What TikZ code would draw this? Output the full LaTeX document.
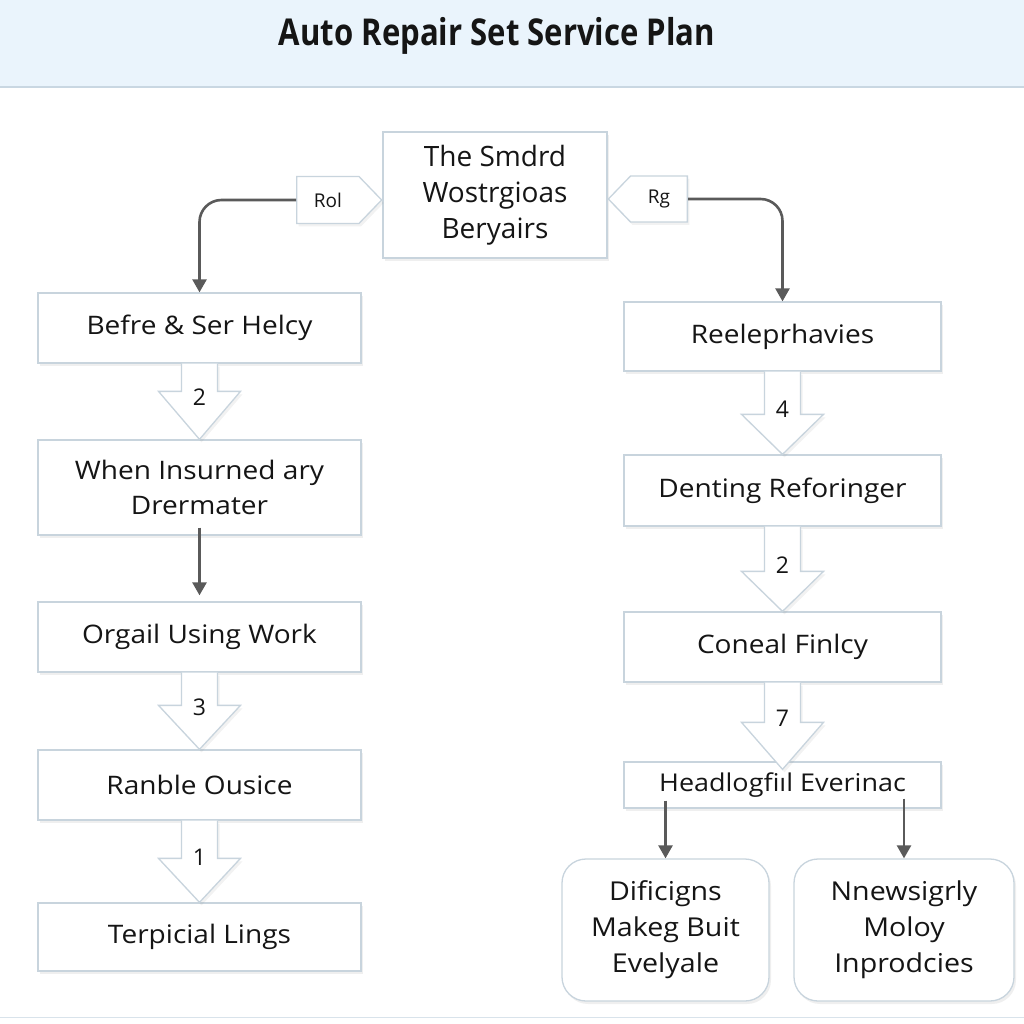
\documentclass[tikz,border=0pt]{standalone}
\usepackage{fontspec}
\setmainfont{Open Sans}
\newfontfamily\titlefont[FakeStretch=0.84]{Open Sans}
\newfontfamily\bodyfont[FakeStretch=1.1]{Open Sans}
\usetikzlibrary{shapes.symbols,arrows.meta,calc,shadows}
\definecolor{boxline}{HTML}{C8D4DD}
\definecolor{txt}{HTML}{151515}
\definecolor{connc}{HTML}{5A5A5A}
\definecolor{headbg}{HTML}{EAF4FC}
\definecolor{headline}{HTML}{C9D7E2}
\newcommand\blkarrow[5]{%
  \fill[white,drop shadow={shadow xshift=2pt,shadow yshift=-3pt,opacity=0.10}] let \p1=(#1.south), \p2=(#2.north) in
    (\x1-18pt,\y1) -- (\x1-18pt,\y2+#4-#5) -- (\x1-41pt,\y2+#4-#5) -- (\x1,\y2-#5)
    -- (\x1+41pt,\y2+#4-#5) -- (\x1+18pt,\y2+#4-#5) -- (\x1+18pt,\y1) -- cycle;
  \draw[blkline] let \p1=(#1.south), \p2=(#2.north) in
    (\x1-18pt,\y1) -- (\x1-18pt,\y2+#4-#5) -- (\x1-41pt,\y2+#4-#5) -- (\x1,\y2-#5)
    -- (\x1+41pt,\y2+#4-#5) -- (\x1+18pt,\y2+#4-#5) -- (\x1+18pt,\y1);
  \node[num] at ($(#1.south)!0.5!(#2.north)+(0,-4)$) {#3};
}
\begin{document}
\begin{tikzpicture}[x=1pt,y=-1pt,
  box/.style={draw=boxline,line width=1.3pt,fill=white,inner sep=0pt,align=center,
    text=txt,font=\bodyfont\fontsize{25.5}{35}\selectfont,
    drop shadow={shadow xshift=2pt,shadow yshift=-3pt,opacity=0.12}},
  lbox/.style={box,minimum width=323pt},
  rbox/.style={box,minimum width=317pt},
  rnd/.style={box,rounded corners=24pt,font=\bodyfont\fontsize{26}{36}\selectfont},
  tag/.style={draw=boxline,line width=1.3pt,fill=white,shape=signal,signal pointer angle=92,
    inner sep=0pt,text=txt,font=\fontsize{19}{20}\selectfont,
    drop shadow={shadow xshift=2pt,shadow yshift=-3pt,opacity=0.10}},
  blkline/.style={draw=boxline,line width=1.3pt,line join=miter},
  num/.style={text=txt,font=\fontsize{23}{24}\selectfont},
  conn/.style={draw=connc,line width=2.6pt,-{Triangle[length=13pt,width=14pt]}},
]
\useasboundingbox (0,0) rectangle (1024,1024);
\fill[white] (0,0) rectangle (1024,1024);
% header
\fill[headbg] (0,0) rectangle (1024,87);
\draw[headline,line width=1.5pt] (0,87) -- (1024,87);
\node[text=txt,font=\titlefont\bfseries\fontsize{37}{38}\selectfont] (title) at (497,36) {Auto Repair Set Service Plan};
\draw[headline!70,line width=1pt] (0,1017) -- (1024,1017);

% top
\node[box,minimum width=224pt,minimum height=126pt,font=\fontsize{28}{36}\selectfont] (top) at (495,195) {The Smdrd\\Wostrgioas\\Beryairs};
\node[tag,signal to=east,minimum width=85pt,minimum height=47pt,anchor=west] (rol) at (296,200) {Rol};
\node[tag,signal to=west,minimum width=79pt,minimum height=46pt,anchor=east] (rg) at (688,199) {Rg};

% left column
\node[lbox,minimum height=70pt] (b1) at (199.5,328) {Befre \& Ser Helcy};
\node[lbox,minimum height=95pt] (b2) at (199.5,487.5) {When Insurned ary\\Drermater};
\node[lbox,minimum height=70pt] (b3) at (199.5,637) {Orgail Using Work};
\node[lbox,minimum height=70pt] (b4) at (199.5,785) {Ranble Ousice};
\node[lbox,minimum height=68pt] (b5) at (199.5,937) {Terpicial Lings};

% right column
\node[rbox,minimum height=69pt] (r1) at (782.5,336.5) {Reeleprhavies};
\node[rbox,minimum height=71pt] (r2) at (782.5,490.5) {Denting Reforinger};
\node[rbox,minimum height=70pt] (r3) at (782.5,647) {Coneal Finlcy};
\node[rbox,minimum height=46pt,font=\bodyfont\fontsize{24.5}{25}\selectfont] (r4) at (782.5,785) {Headlogfiıl Everinac};
\node[rnd,minimum width=207pt,minimum height=142pt] (dl) at (665.5,930) {Dificigns\\Makeg Buit\\Evelyale};
\node[rnd,minimum width=220pt,minimum height=142pt] (dr) at (904,930) {Nnewsigrly\\Moloy\\Inprodcies};

% connectors
\draw[conn,rounded corners=22pt] (rol.west) -| (b1.north);
\draw[conn,rounded corners=22pt] (rg.east) -| (r1.north);
\draw[conn,shorten >=6pt] ($(b2.south)+(0,-8)$) -- (b3.north);
\draw[conn] ($(r4.south -| dl.north)+(0,-8)$) -- (dl.north);
\draw[conn] ($(r4.south -| dr.north)+(0,-10)$) -- (dr.north);

% block arrows
\blkarrow{b1}{b2}{2}{48pt}{0pt}
\blkarrow{b3}{b4}{3}{44pt}{0pt}
\blkarrow{b4}{b5}{1}{44pt}{0pt}
\blkarrow{r1}{r2}{4}{40pt}{0pt}
\blkarrow{r2}{r3}{2}{40pt}{0pt}
\blkarrow{r3}{r4}{7}{47pt}{8pt}
\end{tikzpicture}
\end{document}
